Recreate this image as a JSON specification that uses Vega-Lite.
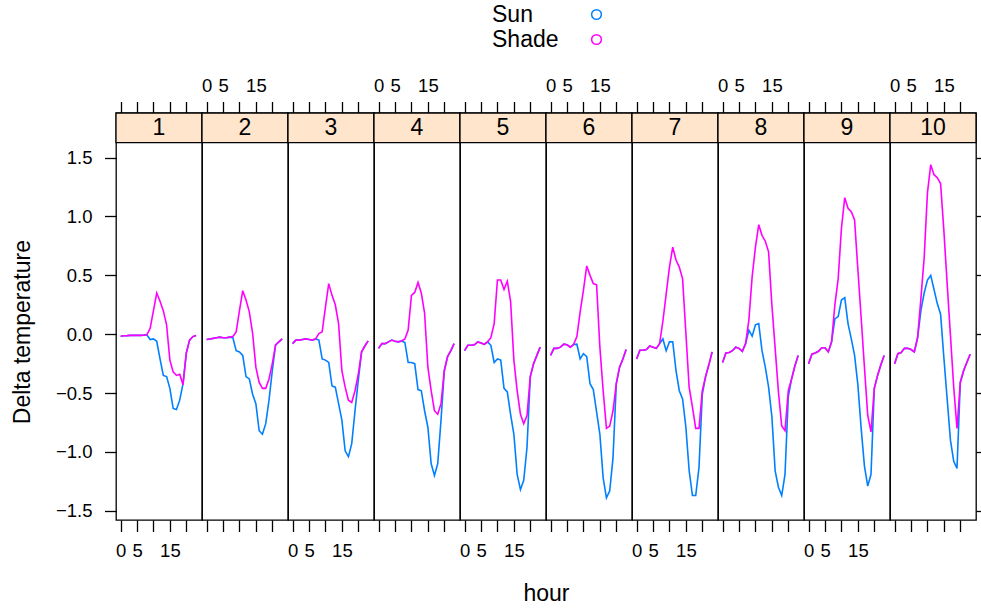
{
"$schema": "https://vega.github.io/schema/vega-lite/v6.json",
"background": "white",
"padding": {"left": 10, "top": 3, "right": 0, "bottom": 0},
"spacing": 0,
"bounds": "flush",
"datasets": {"temps": [
{"panel":1,"hour":0,"Sun":-0.017,"Shade":-0.017},{"panel":1,"hour":1,"Sun":-0.013,"Shade":-0.013},{"panel":1,"hour":2,"Sun":-0.012,"Shade":-0.012},{"panel":1,"hour":3,"Sun":-0.01,"Shade":-0.01},{"panel":1,"hour":4,"Sun":-0.01,"Shade":-0.01},{"panel":1,"hour":5,"Sun":-0.01,"Shade":-0.01},{"panel":1,"hour":6,"Sun":-0.01,"Shade":-0.01},{"panel":1,"hour":7,"Sun":-0.008,"Shade":-0.008},{"panel":1,"hour":8,"Sun":-0.005,"Shade":-0.005},{"panel":1,"hour":9,"Sun":-0.045,"Shade":0.05},{"panel":1,"hour":10,"Sun":-0.04,"Shade":0.2},{"panel":1,"hour":11,"Sun":-0.06,"Shade":0.35},{"panel":1,"hour":12,"Sun":-0.21,"Shade":0.28},{"panel":1,"hour":13,"Sun":-0.35,"Shade":0.2},{"panel":1,"hour":14,"Sun":-0.36,"Shade":0.08},{"panel":1,"hour":15,"Sun":-0.46,"Shade":-0.22},{"panel":1,"hour":16,"Sun":-0.63,"Shade":-0.32},{"panel":1,"hour":17,"Sun":-0.64,"Shade":-0.35},{"panel":1,"hour":18,"Sun":-0.56,"Shade":-0.34},{"panel":1,"hour":19,"Sun":-0.42,"Shade":-0.43},{"panel":1,"hour":20,"Sun":-0.16,"Shade":-0.16},{"panel":1,"hour":21,"Sun":-0.05,"Shade":-0.05},{"panel":1,"hour":22,"Sun":-0.02,"Shade":-0.02},{"panel":1,"hour":23,"Sun":-0.01,"Shade":-0.01},
{"panel":2,"hour":0,"Sun":-0.045,"Shade":-0.045},{"panel":2,"hour":1,"Sun":-0.04,"Shade":-0.04},{"panel":2,"hour":2,"Sun":-0.035,"Shade":-0.035},{"panel":2,"hour":3,"Sun":-0.03,"Shade":-0.03},{"panel":2,"hour":4,"Sun":-0.025,"Shade":-0.025},{"panel":2,"hour":5,"Sun":-0.03,"Shade":-0.03},{"panel":2,"hour":6,"Sun":-0.03,"Shade":-0.03},{"panel":2,"hour":7,"Sun":-0.025,"Shade":-0.025},{"panel":2,"hour":8,"Sun":-0.03,"Shade":-0.02},{"panel":2,"hour":9,"Sun":-0.14,"Shade":0.02},{"panel":2,"hour":10,"Sun":-0.15,"Shade":0.2},{"panel":2,"hour":11,"Sun":-0.18,"Shade":0.37},{"panel":2,"hour":12,"Sun":-0.36,"Shade":0.29},{"panel":2,"hour":13,"Sun":-0.38,"Shade":0.19},{"panel":2,"hour":14,"Sun":-0.51,"Shade":0.01},{"panel":2,"hour":15,"Sun":-0.59,"Shade":-0.28},{"panel":2,"hour":16,"Sun":-0.82,"Shade":-0.41},{"panel":2,"hour":17,"Sun":-0.85,"Shade":-0.46},{"panel":2,"hour":18,"Sun":-0.76,"Shade":-0.46},{"panel":2,"hour":19,"Sun":-0.56,"Shade":-0.38},{"panel":2,"hour":20,"Sun":-0.31,"Shade":-0.25},{"panel":2,"hour":21,"Sun":-0.09,"Shade":-0.09},{"panel":2,"hour":22,"Sun":-0.065,"Shade":-0.065},{"panel":2,"hour":23,"Sun":-0.04,"Shade":-0.04},
{"panel":3,"hour":0,"Sun":-0.08,"Shade":-0.08},{"panel":3,"hour":1,"Sun":-0.05,"Shade":-0.05},{"panel":3,"hour":2,"Sun":-0.05,"Shade":-0.05},{"panel":3,"hour":3,"Sun":-0.045,"Shade":-0.045},{"panel":3,"hour":4,"Sun":-0.04,"Shade":-0.04},{"panel":3,"hour":5,"Sun":-0.045,"Shade":-0.045},{"panel":3,"hour":6,"Sun":-0.05,"Shade":-0.05},{"panel":3,"hour":7,"Sun":-0.04,"Shade":-0.04},{"panel":3,"hour":8,"Sun":-0.05,"Shade":0.005},{"panel":3,"hour":9,"Sun":-0.21,"Shade":0.02},{"panel":3,"hour":10,"Sun":-0.22,"Shade":0.23},{"panel":3,"hour":11,"Sun":-0.24,"Shade":0.43},{"panel":3,"hour":12,"Sun":-0.44,"Shade":0.33},{"panel":3,"hour":13,"Sun":-0.45,"Shade":0.25},{"panel":3,"hour":14,"Sun":-0.59,"Shade":0.09},{"panel":3,"hour":15,"Sun":-0.73,"Shade":-0.31},{"panel":3,"hour":16,"Sun":-0.99,"Shade":-0.45},{"panel":3,"hour":17,"Sun":-1.04,"Shade":-0.56},{"panel":3,"hour":18,"Sun":-0.93,"Shade":-0.58},{"panel":3,"hour":19,"Sun":-0.65,"Shade":-0.48},{"panel":3,"hour":20,"Sun":-0.39,"Shade":-0.34},{"panel":3,"hour":21,"Sun":-0.15,"Shade":-0.15},{"panel":3,"hour":22,"Sun":-0.1,"Shade":-0.1},{"panel":3,"hour":23,"Sun":-0.057,"Shade":-0.057},
{"panel":4,"hour":0,"Sun":-0.12,"Shade":-0.12},{"panel":4,"hour":1,"Sun":-0.08,"Shade":-0.08},{"panel":4,"hour":2,"Sun":-0.08,"Shade":-0.08},{"panel":4,"hour":3,"Sun":-0.065,"Shade":-0.065},{"panel":4,"hour":4,"Sun":-0.05,"Shade":-0.05},{"panel":4,"hour":5,"Sun":-0.06,"Shade":-0.06},{"panel":4,"hour":6,"Sun":-0.065,"Shade":-0.065},{"panel":4,"hour":7,"Sun":-0.057,"Shade":-0.057},{"panel":4,"hour":8,"Sun":-0.07,"Shade":-0.04},{"panel":4,"hour":9,"Sun":-0.24,"Shade":0.035},{"panel":4,"hour":10,"Sun":-0.24,"Shade":0.33},{"panel":4,"hour":11,"Sun":-0.25,"Shade":0.355},{"panel":4,"hour":12,"Sun":-0.47,"Shade":0.44},{"panel":4,"hour":13,"Sun":-0.48,"Shade":0.35},{"panel":4,"hour":14,"Sun":-0.65,"Shade":0.18},{"panel":4,"hour":15,"Sun":-0.79,"Shade":-0.28},{"panel":4,"hour":16,"Sun":-1.1,"Shade":-0.48},{"panel":4,"hour":17,"Sun":-1.2,"Shade":-0.65},{"panel":4,"hour":18,"Sun":-1.1,"Shade":-0.68},{"panel":4,"hour":19,"Sun":-0.73,"Shade":-0.59},{"panel":4,"hour":20,"Sun":-0.31,"Shade":-0.31},{"panel":4,"hour":21,"Sun":-0.19,"Shade":-0.19},{"panel":4,"hour":22,"Sun":-0.14,"Shade":-0.14},{"panel":4,"hour":23,"Sun":-0.08,"Shade":-0.08},
{"panel":5,"hour":0,"Sun":-0.14,"Shade":-0.14},{"panel":5,"hour":1,"Sun":-0.094,"Shade":-0.094},{"panel":5,"hour":2,"Sun":-0.094,"Shade":-0.094},{"panel":5,"hour":3,"Sun":-0.09,"Shade":-0.09},{"panel":5,"hour":4,"Sun":-0.065,"Shade":-0.065},{"panel":5,"hour":5,"Sun":-0.074,"Shade":-0.074},{"panel":5,"hour":6,"Sun":-0.085,"Shade":-0.085},{"panel":5,"hour":7,"Sun":-0.065,"Shade":-0.065},{"panel":5,"hour":8,"Sun":-0.094,"Shade":-0.03},{"panel":5,"hour":9,"Sun":-0.24,"Shade":0.09},{"panel":5,"hour":10,"Sun":-0.21,"Shade":0.46},{"panel":5,"hour":11,"Sun":-0.22,"Shade":0.46},{"panel":5,"hour":12,"Sun":-0.46,"Shade":0.38},{"panel":5,"hour":13,"Sun":-0.49,"Shade":0.45},{"panel":5,"hour":14,"Sun":-0.68,"Shade":0.28},{"panel":5,"hour":15,"Sun":-0.85,"Shade":-0.22},{"panel":5,"hour":16,"Sun":-1.19,"Shade":-0.48},{"panel":5,"hour":17,"Sun":-1.32,"Shade":-0.68},{"panel":5,"hour":18,"Sun":-1.24,"Shade":-0.76},{"panel":5,"hour":19,"Sun":-0.96,"Shade":-0.69},{"panel":5,"hour":20,"Sun":-0.36,"Shade":-0.36},{"panel":5,"hour":21,"Sun":-0.25,"Shade":-0.25},{"panel":5,"hour":22,"Sun":-0.18,"Shade":-0.18},{"panel":5,"hour":23,"Sun":-0.11,"Shade":-0.11},
{"panel":6,"hour":0,"Sun":-0.18,"Shade":-0.18},{"panel":6,"hour":1,"Sun":-0.12,"Shade":-0.12},{"panel":6,"hour":2,"Sun":-0.12,"Shade":-0.12},{"panel":6,"hour":3,"Sun":-0.11,"Shade":-0.11},{"panel":6,"hour":4,"Sun":-0.085,"Shade":-0.085},{"panel":6,"hour":5,"Sun":-0.09,"Shade":-0.09},{"panel":6,"hour":6,"Sun":-0.11,"Shade":-0.11},{"panel":6,"hour":7,"Sun":-0.088,"Shade":-0.088},{"panel":6,"hour":8,"Sun":-0.085,"Shade":-0.02},{"panel":6,"hour":9,"Sun":-0.21,"Shade":0.19},{"panel":6,"hour":10,"Sun":-0.165,"Shade":0.375},{"panel":6,"hour":11,"Sun":-0.19,"Shade":0.58},{"panel":6,"hour":12,"Sun":-0.42,"Shade":0.5},{"panel":6,"hour":13,"Sun":-0.47,"Shade":0.43},{"panel":6,"hour":14,"Sun":-0.66,"Shade":0.42},{"panel":6,"hour":15,"Sun":-0.85,"Shade":-0.11},{"panel":6,"hour":16,"Sun":-1.22,"Shade":-0.48},{"panel":6,"hour":17,"Sun":-1.39,"Shade":-0.8},{"panel":6,"hour":18,"Sun":-1.33,"Shade":-0.78},{"panel":6,"hour":19,"Sun":-1.05,"Shade":-0.65},{"panel":6,"hour":20,"Sun":-0.42,"Shade":-0.42},{"panel":6,"hour":21,"Sun":-0.28,"Shade":-0.28},{"panel":6,"hour":22,"Sun":-0.21,"Shade":-0.21},{"panel":6,"hour":23,"Sun":-0.13,"Shade":-0.13},
{"panel":7,"hour":0,"Sun":-0.21,"Shade":-0.21},{"panel":7,"hour":1,"Sun":-0.136,"Shade":-0.136},{"panel":7,"hour":2,"Sun":-0.136,"Shade":-0.136},{"panel":7,"hour":3,"Sun":-0.13,"Shade":-0.13},{"panel":7,"hour":4,"Sun":-0.1,"Shade":-0.1},{"panel":7,"hour":5,"Sun":-0.11,"Shade":-0.11},{"panel":7,"hour":6,"Sun":-0.12,"Shade":-0.12},{"panel":7,"hour":7,"Sun":-0.08,"Shade":-0.08},{"panel":7,"hour":8,"Sun":-0.04,"Shade":0.11},{"panel":7,"hour":9,"Sun":-0.14,"Shade":0.34},{"panel":7,"hour":10,"Sun":-0.065,"Shade":0.57},{"panel":7,"hour":11,"Sun":-0.065,"Shade":0.74},{"panel":7,"hour":12,"Sun":-0.31,"Shade":0.63},{"panel":7,"hour":13,"Sun":-0.48,"Shade":0.57},{"panel":7,"hour":14,"Sun":-0.55,"Shade":0.47},{"panel":7,"hour":15,"Sun":-0.79,"Shade":0.01},{"panel":7,"hour":16,"Sun":-1.16,"Shade":-0.45},{"panel":7,"hour":17,"Sun":-1.37,"Shade":-0.62},{"panel":7,"hour":18,"Sun":-1.37,"Shade":-0.8},{"panel":7,"hour":19,"Sun":-1.13,"Shade":-0.8},{"panel":7,"hour":20,"Sun":-0.51,"Shade":-0.48},{"panel":7,"hour":21,"Sun":-0.36,"Shade":-0.36},{"panel":7,"hour":22,"Sun":-0.26,"Shade":-0.26},{"panel":7,"hour":23,"Sun":-0.15,"Shade":-0.15},
{"panel":8,"hour":0,"Sun":-0.24,"Shade":-0.24},{"panel":8,"hour":1,"Sun":-0.16,"Shade":-0.16},{"panel":8,"hour":2,"Sun":-0.155,"Shade":-0.155},{"panel":8,"hour":3,"Sun":-0.14,"Shade":-0.14},{"panel":8,"hour":4,"Sun":-0.11,"Shade":-0.11},{"panel":8,"hour":5,"Sun":-0.12,"Shade":-0.12},{"panel":8,"hour":6,"Sun":-0.145,"Shade":-0.145},{"panel":8,"hour":7,"Sun":-0.08,"Shade":-0.08},{"panel":8,"hour":8,"Sun":0.034,"Shade":0.12},{"panel":8,"hour":9,"Sun":-0.017,"Shade":0.49},{"panel":8,"hour":10,"Sun":0.08,"Shade":0.74},{"panel":8,"hour":11,"Sun":0.09,"Shade":0.93},{"panel":8,"hour":12,"Sun":-0.14,"Shade":0.84},{"panel":8,"hour":13,"Sun":-0.28,"Shade":0.79},{"panel":8,"hour":14,"Sun":-0.45,"Shade":0.7},{"panel":8,"hour":15,"Sun":-0.7,"Shade":0.25},{"panel":8,"hour":16,"Sun":-1.16,"Shade":-0.12},{"panel":8,"hour":17,"Sun":-1.3,"Shade":-0.49},{"panel":8,"hour":18,"Sun":-1.37,"Shade":-0.78},{"panel":8,"hour":19,"Sun":-1.19,"Shade":-0.82},{"panel":8,"hour":20,"Sun":-0.53,"Shade":-0.48},{"panel":8,"hour":21,"Sun":-0.38,"Shade":-0.38},{"panel":8,"hour":22,"Sun":-0.27,"Shade":-0.27},{"panel":8,"hour":23,"Sun":-0.18,"Shade":-0.18},
{"panel":9,"hour":0,"Sun":-0.25,"Shade":-0.25},{"panel":9,"hour":1,"Sun":-0.17,"Shade":-0.17},{"panel":9,"hour":2,"Sun":-0.16,"Shade":-0.16},{"panel":9,"hour":3,"Sun":-0.145,"Shade":-0.145},{"panel":9,"hour":4,"Sun":-0.115,"Shade":-0.115},{"panel":9,"hour":5,"Sun":-0.115,"Shade":-0.115},{"panel":9,"hour":6,"Sun":-0.15,"Shade":-0.15},{"panel":9,"hour":7,"Sun":-0.065,"Shade":-0.065},{"panel":9,"hour":8,"Sun":0.13,"Shade":0.25},{"panel":9,"hour":9,"Sun":0.15,"Shade":0.47},{"panel":9,"hour":10,"Sun":0.29,"Shade":0.9},{"panel":9,"hour":11,"Sun":0.31,"Shade":1.16},{"panel":9,"hour":12,"Sun":0.09,"Shade":1.07},{"panel":9,"hour":13,"Sun":-0.04,"Shade":1.04},{"panel":9,"hour":14,"Sun":-0.18,"Shade":0.97},{"panel":9,"hour":15,"Sun":-0.43,"Shade":0.55},{"panel":9,"hour":16,"Sun":-0.8,"Shade":0.14},{"panel":9,"hour":17,"Sun":-1.12,"Shade":-0.28},{"panel":9,"hour":18,"Sun":-1.29,"Shade":-0.69},{"panel":9,"hour":19,"Sun":-1.19,"Shade":-0.83},{"panel":9,"hour":20,"Sun":-0.46,"Shade":-0.46},{"panel":9,"hour":21,"Sun":-0.35,"Shade":-0.35},{"panel":9,"hour":22,"Sun":-0.26,"Shade":-0.26},{"panel":9,"hour":23,"Sun":-0.18,"Shade":-0.18},
{"panel":10,"hour":0,"Sun":-0.25,"Shade":-0.25},{"panel":10,"hour":1,"Sun":-0.165,"Shade":-0.165},{"panel":10,"hour":2,"Sun":-0.155,"Shade":-0.155},{"panel":10,"hour":3,"Sun":-0.12,"Shade":-0.12},{"panel":10,"hour":4,"Sun":-0.12,"Shade":-0.12},{"panel":10,"hour":5,"Sun":-0.13,"Shade":-0.13},{"panel":10,"hour":6,"Sun":-0.15,"Shade":-0.15},{"panel":10,"hour":7,"Sun":-0.03,"Shade":-0.03},{"panel":10,"hour":8,"Sun":0.2,"Shade":0.3},{"panel":10,"hour":9,"Sun":0.35,"Shade":0.65},{"panel":10,"hour":10,"Sun":0.46,"Shade":1.2},{"panel":10,"hour":11,"Sun":0.5,"Shade":1.44},{"panel":10,"hour":12,"Sun":0.38,"Shade":1.355},{"panel":10,"hour":13,"Sun":0.26,"Shade":1.33},{"panel":10,"hour":14,"Sun":0.17,"Shade":1.28},{"panel":10,"hour":15,"Sun":-0.2,"Shade":0.88},{"panel":10,"hour":16,"Sun":-0.55,"Shade":0.43},{"panel":10,"hour":17,"Sun":-0.9,"Shade":-0.01},{"panel":10,"hour":18,"Sun":-1.08,"Shade":-0.45},{"panel":10,"hour":19,"Sun":-1.14,"Shade":-0.8},{"panel":10,"hour":20,"Sun":-0.41,"Shade":-0.41},{"panel":10,"hour":21,"Sun":-0.31,"Shade":-0.31},{"panel":10,"hour":22,"Sun":-0.24,"Shade":-0.24},{"panel":10,"hour":23,"Sun":-0.17,"Shade":-0.17}
]},
"data": {"name": "temps"},
"transform": [{"fold": ["Sun", "Shade"], "as": ["series", "value"]}],
"hconcat": [
{"width": 86, "height": 407, "resolve": {"axis": {"x": "independent", "y": "independent"}}, "layer": [
 {"data": {"values": [{"label": "1"}]}, "mark": {"type": "rect", "fill": "#ffe5cc", "stroke": "black", "strokeWidth": 1.3},
  "encoding": {"x": {"datum": -1.4, "type": "quantitative", "scale": {"domain": [-1.4, 24.78], "nice": false, "zero": false}, "axis": {"orient": "top", "values": [0,5,10,15,20], "labels": false, "tickSize": 11.5, "title": null}}, "x2": {"datum": 24.78},
   "y": {"datum": 1.627, "type": "quantitative", "scale": {"domain": [-1.578, 1.879], "nice": false, "zero": false}, "axis": null}, "y2": {"datum": 1.879}}},
 {"data": {"values": [{"label": "1"}]}, "mark": {"type": "text", "fontSize": 23, "color": "black"},
  "encoding": {"x": {"datum": 11.69, "type": "quantitative", "axis": null}, "y": {"datum": 1.753, "type": "quantitative", "axis": null}, "text": {"field": "label"}}},
 {"transform": [{"filter": "datum.panel == 1"}], "mark": {"type": "line", "strokeWidth": 1.6},
  "encoding": {"x": {"field": "hour", "type": "quantitative", "scale": {"domain": [-1.4, 24.78], "nice": false, "zero": false}, "axis": {"orient": "bottom", "values": [0,5,10,15,20], "labelExpr": "datum.value==10||datum.value==20?'':datum.label", "tickSize": 11.5, "labelFontSize": 18.5, "labelPadding": 10, "title": null}},
   "y": {"field": "value", "type": "quantitative", "scale": {"domain": [-1.578, 1.879], "nice": false, "zero": false}, "axis": {"orient": "left", "values": [-1.5,-1,-0.5,0,0.5,1,1.5], "format": ".1f", "tickSize": 11.5, "labelFontSize": 18.5, "labelPadding": 12.5, "title": "Delta temperature", "titleFontSize": 23, "titlePadding": 21, "titleY": 218.6}},
   "color": {"field": "series", "type": "nominal", "scale": {"domain": ["Sun", "Shade"], "range": ["#0080ff", "#ff00ff"]}, "legend": {"title": null, "orient": "none", "legendX": 469, "legendY": -110, "symbolType": "circle", "symbolSize": 95, "symbolStrokeWidth": 1.5, "labelFontSize": 23, "labelOffset": -116, "rowPadding": 1, "padding": 0, "encode": {"symbols": {"update": {"fill": {"value": "transparent"}}}}}}}}
]},
{"width": 86, "height": 407, "resolve": {"axis": {"x": "independent", "y": "independent"}}, "layer": [
 {"data": {"values": [{"label": "2"}]}, "mark": {"type": "rect", "fill": "#ffe5cc", "stroke": "black", "strokeWidth": 1.3},
  "encoding": {"x": {"datum": -1.4, "type": "quantitative", "scale": {"domain": [-1.4, 24.78], "nice": false, "zero": false}, "axis": {"orient": "top", "values": [0,5,10,15,20], "labelExpr": "datum.value==10||datum.value==20?'':datum.label", "tickSize": 11.5, "labelFontSize": 18.5, "labelPadding": 6.5, "title": null}}, "x2": {"datum": 24.78},
   "y": {"datum": 1.627, "type": "quantitative", "scale": {"domain": [-1.578, 1.879], "nice": false, "zero": false}, "axis": null}, "y2": {"datum": 1.879}}},
 {"data": {"values": [{"label": "2"}]}, "mark": {"type": "text", "fontSize": 23, "color": "black"},
  "encoding": {"x": {"datum": 11.69, "type": "quantitative", "axis": null}, "y": {"datum": 1.753, "type": "quantitative", "axis": null}, "text": {"field": "label"}}},
 {"transform": [{"filter": "datum.panel == 2"}], "mark": {"type": "line", "strokeWidth": 1.6},
  "encoding": {"x": {"field": "hour", "type": "quantitative", "scale": {"domain": [-1.4, 24.78], "nice": false, "zero": false}, "axis": {"orient": "bottom", "values": [0,5,10,15,20], "labels": false, "tickSize": 11.5, "title": null}},
   "y": {"field": "value", "type": "quantitative", "scale": {"domain": [-1.578, 1.879], "nice": false, "zero": false}, "axis": null},
   "color": {"field": "series", "type": "nominal", "scale": {"domain": ["Sun", "Shade"], "range": ["#0080ff", "#ff00ff"]}}}}
]},
{"width": 86, "height": 407, "resolve": {"axis": {"x": "independent", "y": "independent"}}, "layer": [
 {"data": {"values": [{"label": "3"}]}, "mark": {"type": "rect", "fill": "#ffe5cc", "stroke": "black", "strokeWidth": 1.3},
  "encoding": {"x": {"datum": -1.4, "type": "quantitative", "scale": {"domain": [-1.4, 24.78], "nice": false, "zero": false}, "axis": {"orient": "top", "values": [0,5,10,15,20], "labels": false, "tickSize": 11.5, "title": null}}, "x2": {"datum": 24.78},
   "y": {"datum": 1.627, "type": "quantitative", "scale": {"domain": [-1.578, 1.879], "nice": false, "zero": false}, "axis": null}, "y2": {"datum": 1.879}}},
 {"data": {"values": [{"label": "3"}]}, "mark": {"type": "text", "fontSize": 23, "color": "black"},
  "encoding": {"x": {"datum": 11.69, "type": "quantitative", "axis": null}, "y": {"datum": 1.753, "type": "quantitative", "axis": null}, "text": {"field": "label"}}},
 {"transform": [{"filter": "datum.panel == 3"}], "mark": {"type": "line", "strokeWidth": 1.6},
  "encoding": {"x": {"field": "hour", "type": "quantitative", "scale": {"domain": [-1.4, 24.78], "nice": false, "zero": false}, "axis": {"orient": "bottom", "values": [0,5,10,15,20], "labelExpr": "datum.value==10||datum.value==20?'':datum.label", "tickSize": 11.5, "labelFontSize": 18.5, "labelPadding": 10, "title": null}},
   "y": {"field": "value", "type": "quantitative", "scale": {"domain": [-1.578, 1.879], "nice": false, "zero": false}, "axis": null},
   "color": {"field": "series", "type": "nominal", "scale": {"domain": ["Sun", "Shade"], "range": ["#0080ff", "#ff00ff"]}}}}
]},
{"width": 86, "height": 407, "resolve": {"axis": {"x": "independent", "y": "independent"}}, "layer": [
 {"data": {"values": [{"label": "4"}]}, "mark": {"type": "rect", "fill": "#ffe5cc", "stroke": "black", "strokeWidth": 1.3},
  "encoding": {"x": {"datum": -1.4, "type": "quantitative", "scale": {"domain": [-1.4, 24.78], "nice": false, "zero": false}, "axis": {"orient": "top", "values": [0,5,10,15,20], "labelExpr": "datum.value==10||datum.value==20?'':datum.label", "tickSize": 11.5, "labelFontSize": 18.5, "labelPadding": 6.5, "title": null}}, "x2": {"datum": 24.78},
   "y": {"datum": 1.627, "type": "quantitative", "scale": {"domain": [-1.578, 1.879], "nice": false, "zero": false}, "axis": null}, "y2": {"datum": 1.879}}},
 {"data": {"values": [{"label": "4"}]}, "mark": {"type": "text", "fontSize": 23, "color": "black"},
  "encoding": {"x": {"datum": 11.69, "type": "quantitative", "axis": null}, "y": {"datum": 1.753, "type": "quantitative", "axis": null}, "text": {"field": "label"}}},
 {"transform": [{"filter": "datum.panel == 4"}], "mark": {"type": "line", "strokeWidth": 1.6},
  "encoding": {"x": {"field": "hour", "type": "quantitative", "scale": {"domain": [-1.4, 24.78], "nice": false, "zero": false}, "axis": {"orient": "bottom", "values": [0,5,10,15,20], "labels": false, "tickSize": 11.5, "title": null}},
   "y": {"field": "value", "type": "quantitative", "scale": {"domain": [-1.578, 1.879], "nice": false, "zero": false}, "axis": null},
   "color": {"field": "series", "type": "nominal", "scale": {"domain": ["Sun", "Shade"], "range": ["#0080ff", "#ff00ff"]}}}}
]},
{"width": 86, "height": 407, "resolve": {"axis": {"x": "independent", "y": "independent"}}, "layer": [
 {"data": {"values": [{"label": "5"}]}, "mark": {"type": "rect", "fill": "#ffe5cc", "stroke": "black", "strokeWidth": 1.3},
  "encoding": {"x": {"datum": -1.4, "type": "quantitative", "scale": {"domain": [-1.4, 24.78], "nice": false, "zero": false}, "axis": {"orient": "top", "values": [0,5,10,15,20], "labels": false, "tickSize": 11.5, "title": null}}, "x2": {"datum": 24.78},
   "y": {"datum": 1.627, "type": "quantitative", "scale": {"domain": [-1.578, 1.879], "nice": false, "zero": false}, "axis": null}, "y2": {"datum": 1.879}}},
 {"data": {"values": [{"label": "5"}]}, "mark": {"type": "text", "fontSize": 23, "color": "black"},
  "encoding": {"x": {"datum": 11.69, "type": "quantitative", "axis": null}, "y": {"datum": 1.753, "type": "quantitative", "axis": null}, "text": {"field": "label"}}},
 {"transform": [{"filter": "datum.panel == 5"}], "mark": {"type": "line", "strokeWidth": 1.6},
  "encoding": {"x": {"field": "hour", "type": "quantitative", "scale": {"domain": [-1.4, 24.78], "nice": false, "zero": false}, "axis": {"orient": "bottom", "values": [0,5,10,15,20], "labelExpr": "datum.value==10||datum.value==20?'':datum.label", "tickSize": 11.5, "labelFontSize": 18.5, "labelPadding": 10, "title": "hour", "titleFontSize": 23, "titleX": 86, "titleAlign": "center", "titleBaseline": "alphabetic", "titleY": 80}},
   "y": {"field": "value", "type": "quantitative", "scale": {"domain": [-1.578, 1.879], "nice": false, "zero": false}, "axis": null},
   "color": {"field": "series", "type": "nominal", "scale": {"domain": ["Sun", "Shade"], "range": ["#0080ff", "#ff00ff"]}}}}
]},
{"width": 86, "height": 407, "resolve": {"axis": {"x": "independent", "y": "independent"}}, "layer": [
 {"data": {"values": [{"label": "6"}]}, "mark": {"type": "rect", "fill": "#ffe5cc", "stroke": "black", "strokeWidth": 1.3},
  "encoding": {"x": {"datum": -1.4, "type": "quantitative", "scale": {"domain": [-1.4, 24.78], "nice": false, "zero": false}, "axis": {"orient": "top", "values": [0,5,10,15,20], "labelExpr": "datum.value==10||datum.value==20?'':datum.label", "tickSize": 11.5, "labelFontSize": 18.5, "labelPadding": 6.5, "title": null}}, "x2": {"datum": 24.78},
   "y": {"datum": 1.627, "type": "quantitative", "scale": {"domain": [-1.578, 1.879], "nice": false, "zero": false}, "axis": null}, "y2": {"datum": 1.879}}},
 {"data": {"values": [{"label": "6"}]}, "mark": {"type": "text", "fontSize": 23, "color": "black"},
  "encoding": {"x": {"datum": 11.69, "type": "quantitative", "axis": null}, "y": {"datum": 1.753, "type": "quantitative", "axis": null}, "text": {"field": "label"}}},
 {"transform": [{"filter": "datum.panel == 6"}], "mark": {"type": "line", "strokeWidth": 1.6},
  "encoding": {"x": {"field": "hour", "type": "quantitative", "scale": {"domain": [-1.4, 24.78], "nice": false, "zero": false}, "axis": {"orient": "bottom", "values": [0,5,10,15,20], "labels": false, "tickSize": 11.5, "title": null}},
   "y": {"field": "value", "type": "quantitative", "scale": {"domain": [-1.578, 1.879], "nice": false, "zero": false}, "axis": null},
   "color": {"field": "series", "type": "nominal", "scale": {"domain": ["Sun", "Shade"], "range": ["#0080ff", "#ff00ff"]}}}}
]},
{"width": 86, "height": 407, "resolve": {"axis": {"x": "independent", "y": "independent"}}, "layer": [
 {"data": {"values": [{"label": "7"}]}, "mark": {"type": "rect", "fill": "#ffe5cc", "stroke": "black", "strokeWidth": 1.3},
  "encoding": {"x": {"datum": -1.4, "type": "quantitative", "scale": {"domain": [-1.4, 24.78], "nice": false, "zero": false}, "axis": {"orient": "top", "values": [0,5,10,15,20], "labels": false, "tickSize": 11.5, "title": null}}, "x2": {"datum": 24.78},
   "y": {"datum": 1.627, "type": "quantitative", "scale": {"domain": [-1.578, 1.879], "nice": false, "zero": false}, "axis": null}, "y2": {"datum": 1.879}}},
 {"data": {"values": [{"label": "7"}]}, "mark": {"type": "text", "fontSize": 23, "color": "black"},
  "encoding": {"x": {"datum": 11.69, "type": "quantitative", "axis": null}, "y": {"datum": 1.753, "type": "quantitative", "axis": null}, "text": {"field": "label"}}},
 {"transform": [{"filter": "datum.panel == 7"}], "mark": {"type": "line", "strokeWidth": 1.6},
  "encoding": {"x": {"field": "hour", "type": "quantitative", "scale": {"domain": [-1.4, 24.78], "nice": false, "zero": false}, "axis": {"orient": "bottom", "values": [0,5,10,15,20], "labelExpr": "datum.value==10||datum.value==20?'':datum.label", "tickSize": 11.5, "labelFontSize": 18.5, "labelPadding": 10, "title": null}},
   "y": {"field": "value", "type": "quantitative", "scale": {"domain": [-1.578, 1.879], "nice": false, "zero": false}, "axis": null},
   "color": {"field": "series", "type": "nominal", "scale": {"domain": ["Sun", "Shade"], "range": ["#0080ff", "#ff00ff"]}}}}
]},
{"width": 86, "height": 407, "resolve": {"axis": {"x": "independent", "y": "independent"}}, "layer": [
 {"data": {"values": [{"label": "8"}]}, "mark": {"type": "rect", "fill": "#ffe5cc", "stroke": "black", "strokeWidth": 1.3},
  "encoding": {"x": {"datum": -1.4, "type": "quantitative", "scale": {"domain": [-1.4, 24.78], "nice": false, "zero": false}, "axis": {"orient": "top", "values": [0,5,10,15,20], "labelExpr": "datum.value==10||datum.value==20?'':datum.label", "tickSize": 11.5, "labelFontSize": 18.5, "labelPadding": 6.5, "title": null}}, "x2": {"datum": 24.78},
   "y": {"datum": 1.627, "type": "quantitative", "scale": {"domain": [-1.578, 1.879], "nice": false, "zero": false}, "axis": null}, "y2": {"datum": 1.879}}},
 {"data": {"values": [{"label": "8"}]}, "mark": {"type": "text", "fontSize": 23, "color": "black"},
  "encoding": {"x": {"datum": 11.69, "type": "quantitative", "axis": null}, "y": {"datum": 1.753, "type": "quantitative", "axis": null}, "text": {"field": "label"}}},
 {"transform": [{"filter": "datum.panel == 8"}], "mark": {"type": "line", "strokeWidth": 1.6},
  "encoding": {"x": {"field": "hour", "type": "quantitative", "scale": {"domain": [-1.4, 24.78], "nice": false, "zero": false}, "axis": {"orient": "bottom", "values": [0,5,10,15,20], "labels": false, "tickSize": 11.5, "title": null}},
   "y": {"field": "value", "type": "quantitative", "scale": {"domain": [-1.578, 1.879], "nice": false, "zero": false}, "axis": null},
   "color": {"field": "series", "type": "nominal", "scale": {"domain": ["Sun", "Shade"], "range": ["#0080ff", "#ff00ff"]}}}}
]},
{"width": 86, "height": 407, "resolve": {"axis": {"x": "independent", "y": "independent"}}, "layer": [
 {"data": {"values": [{"label": "9"}]}, "mark": {"type": "rect", "fill": "#ffe5cc", "stroke": "black", "strokeWidth": 1.3},
  "encoding": {"x": {"datum": -1.4, "type": "quantitative", "scale": {"domain": [-1.4, 24.78], "nice": false, "zero": false}, "axis": {"orient": "top", "values": [0,5,10,15,20], "labels": false, "tickSize": 11.5, "title": null}}, "x2": {"datum": 24.78},
   "y": {"datum": 1.627, "type": "quantitative", "scale": {"domain": [-1.578, 1.879], "nice": false, "zero": false}, "axis": null}, "y2": {"datum": 1.879}}},
 {"data": {"values": [{"label": "9"}]}, "mark": {"type": "text", "fontSize": 23, "color": "black"},
  "encoding": {"x": {"datum": 11.69, "type": "quantitative", "axis": null}, "y": {"datum": 1.753, "type": "quantitative", "axis": null}, "text": {"field": "label"}}},
 {"transform": [{"filter": "datum.panel == 9"}], "mark": {"type": "line", "strokeWidth": 1.6},
  "encoding": {"x": {"field": "hour", "type": "quantitative", "scale": {"domain": [-1.4, 24.78], "nice": false, "zero": false}, "axis": {"orient": "bottom", "values": [0,5,10,15,20], "labelExpr": "datum.value==10||datum.value==20?'':datum.label", "tickSize": 11.5, "labelFontSize": 18.5, "labelPadding": 10, "title": null}},
   "y": {"field": "value", "type": "quantitative", "scale": {"domain": [-1.578, 1.879], "nice": false, "zero": false}, "axis": null},
   "color": {"field": "series", "type": "nominal", "scale": {"domain": ["Sun", "Shade"], "range": ["#0080ff", "#ff00ff"]}}}}
]},
{"width": 86, "height": 407, "resolve": {"axis": {"x": "independent", "y": "independent"}}, "layer": [
 {"data": {"values": [{"label": "10"}]}, "mark": {"type": "rect", "fill": "#ffe5cc", "stroke": "black", "strokeWidth": 1.3},
  "encoding": {"x": {"datum": -1.4, "type": "quantitative", "scale": {"domain": [-1.4, 24.78], "nice": false, "zero": false}, "axis": {"orient": "top", "values": [0,5,10,15,20], "labelExpr": "datum.value==10||datum.value==20?'':datum.label", "tickSize": 11.5, "labelFontSize": 18.5, "labelPadding": 6.5, "title": null}}, "x2": {"datum": 24.78},
   "y": {"datum": 1.627, "type": "quantitative", "scale": {"domain": [-1.578, 1.879], "nice": false, "zero": false}, "axis": {"orient": "right", "values": [-1.5,-1,-0.5,0,0.5,1,1.5], "labels": false, "tickSize": 11.5, "title": null}}, "y2": {"datum": 1.879}}},
 {"data": {"values": [{"label": "10"}]}, "mark": {"type": "text", "fontSize": 23, "color": "black"},
  "encoding": {"x": {"datum": 11.69, "type": "quantitative", "axis": null}, "y": {"datum": 1.753, "type": "quantitative", "axis": null}, "text": {"field": "label"}}},
 {"transform": [{"filter": "datum.panel == 10"}], "mark": {"type": "line", "strokeWidth": 1.6},
  "encoding": {"x": {"field": "hour", "type": "quantitative", "scale": {"domain": [-1.4, 24.78], "nice": false, "zero": false}, "axis": {"orient": "bottom", "values": [0,5,10,15,20], "labels": false, "tickSize": 11.5, "title": null}},
   "y": {"field": "value", "type": "quantitative", "scale": {"domain": [-1.578, 1.879], "nice": false, "zero": false}, "axis": null},
   "color": {"field": "series", "type": "nominal", "scale": {"domain": ["Sun", "Shade"], "range": ["#0080ff", "#ff00ff"]}}}}
]}
],
"config": {
 "font": "Liberation Sans",
 "view": {"stroke": "black", "strokeWidth": 1.3},
 "axis": {"grid": false, "domain": false, "tickColor": "black", "tickWidth": 1.3, "labelColor": "black", "titleColor": "black", "labelFont": "Liberation Sans", "titleFont": "Liberation Sans", "titleFontWeight": "normal", "labelOverlap": false, "labelFlush": false, "labelBound": false},
 "legend": {"labelFont": "Liberation Sans", "labelColor": "black"},
 "text": {"font": "Liberation Sans"}
}
}
